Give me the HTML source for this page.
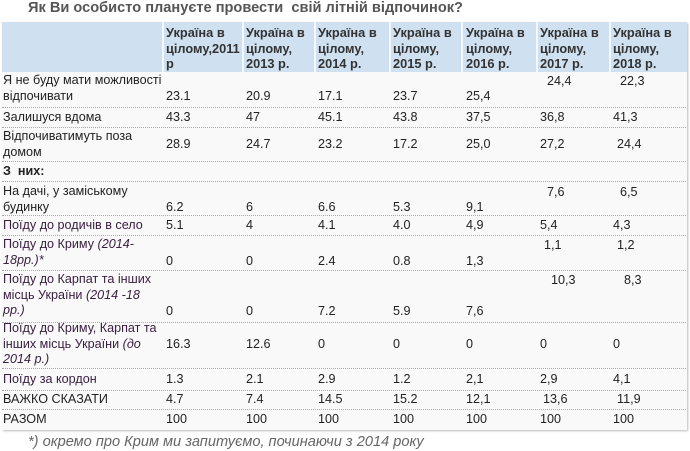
<!DOCTYPE html>
<html><head><meta charset="utf-8"><style>
body{margin:0;width:690px;height:450px;background:#fff;position:relative;overflow:hidden;font-family:"Liberation Sans",Arial,sans-serif;font-size:12.6px;color:#222}
div{position:absolute;white-space:nowrap;line-height:15.5px}
.h{font-weight:bold;color:#333;font-size:12.8px}
.l{position:absolute;left:2px;width:684px;height:0;border-top:1px dotted #aaa}
.v{position:absolute;top:22px;width:2px;height:50px;background:#f4f8fc}
i{font-style:italic}
.p{color:#3a2040}
</style></head><body>
<div style="left:28px;top:0;font-size:14.6px;font-weight:bold;color:#555;line-height:17px">Як Ви особисто плануєте провести&nbsp; свій літній відпочинок?</div>
<div style="left:2px;top:22px;width:685px;height:408px;background:#f9f9f9;box-shadow:1px 1px 2px #bbb"></div>
<div style="left:2px;top:22px;width:685px;height:50px;background:#cfe0f0"></div>
<span class="v" style="left:162px"></span><span class="v" style="left:242px"></span><span class="v" style="left:314px"></span><span class="v" style="left:389px"></span><span class="v" style="left:461px"></span><span class="v" style="left:536px"></span><span class="v" style="left:609px"></span>
<div class="h" style="left:166px;top:25px">Україна в<br>цілому,2011<br>р</div>
<div class="h" style="left:246px;top:25px">Україна в<br>цілому,<br>2013 р.</div>
<div class="h" style="left:318px;top:25px">Україна в<br>цілому,<br>2014 р.</div>
<div class="h" style="left:393px;top:25px">Україна в<br>цілому,<br>2015 р.</div>
<div class="h" style="left:466px;top:25px">Україна в<br>цілому,<br>2016 р.</div>
<div class="h" style="left:540px;top:25px">Україна в<br>цілому,<br>2017 р.</div>
<div class="h" style="left:613px;top:25px">Україна в<br>цілому,<br>2018 р.</div>
<span class="l" style="top:107px"></span><span class="l" style="top:127px"></span><span class="l" style="top:161px"></span><span class="l" style="top:181px"></span><span class="l" style="top:215px"></span><span class="l" style="top:235px"></span><span class="l" style="top:270px"></span><span class="l" style="top:322px"></span><span class="l" style="top:368px"></span><span class="l" style="top:390px"></span><span class="l" style="top:409px"></span>

<div style="left:3px;top:73px">Я не буду мати можливості<br>відпочивати</div>
<div style="left:166px;top:89px">23.1</div><div style="left:246px;top:89px">20.9</div><div style="left:318px;top:89px">17.1</div><div style="left:393px;top:89px">23.7</div><div style="left:466px;top:89px">25,4</div><div style="left:547px;top:74px">24,4</div><div style="left:620px;top:74px">22,3</div>

<div style="left:3px;top:110px">Залишуся вдома</div>
<div style="left:166px;top:110px">43.3</div><div style="left:246px;top:110px">47</div><div style="left:318px;top:110px">45.1</div><div style="left:393px;top:110px">43.8</div><div style="left:466px;top:110px">37,5</div><div style="left:540px;top:110px">36,8</div><div style="left:613px;top:110px">41,3</div>

<div style="left:3px;top:129px">Відпочиватимуть поза<br>домом</div>
<div style="left:166px;top:137px">28.9</div><div style="left:246px;top:137px">24.7</div><div style="left:318px;top:137px">23.2</div><div style="left:393px;top:137px">17.2</div><div style="left:466px;top:137px">25,0</div><div style="left:540px;top:137px">27,2</div><div style="left:617px;top:137px">24,4</div>

<div style="left:3px;top:164px;font-weight:bold">З&nbsp; них:</div>

<div style="left:3px;top:184px">На дачі, у заміському<br>будинку</div>
<div style="left:166px;top:200px">6.2</div><div style="left:246px;top:200px">6</div><div style="left:318px;top:200px">6.6</div><div style="left:393px;top:200px">5.3</div><div style="left:466px;top:200px">9,1</div><div style="left:547px;top:185px">7,6</div><div style="left:620px;top:185px">6,5</div>

<div class="p" style="left:3px;top:218px">Поїду до родичів в село</div>
<div style="left:166px;top:218px">5.1</div><div style="left:246px;top:218px">4</div><div style="left:318px;top:218px">4.1</div><div style="left:393px;top:218px">4.0</div><div style="left:466px;top:218px">4,9</div><div style="left:540px;top:218px">5,4</div><div style="left:613px;top:218px">4,3</div>

<div class="p" style="left:3px;top:237px">Поїду до Криму <i>(2014-<br>18рр.)*</i></div>
<div style="left:166px;top:254px">0</div><div style="left:246px;top:254px">0</div><div style="left:318px;top:254px">2.4</div><div style="left:393px;top:254px">0.8</div><div style="left:466px;top:254px">1,3</div><div style="left:544px;top:238px">1,1</div><div style="left:617px;top:238px">1,2</div>

<div class="p" style="left:3px;top:272px">Поїду до Карпат та інших<br>місць України <i>(2014 -18<br>рр.)</i></div>
<div style="left:166px;top:304px">0</div><div style="left:246px;top:304px">0</div><div style="left:318px;top:304px">7.2</div><div style="left:393px;top:304px">5.9</div><div style="left:466px;top:304px">7,6</div><div style="left:551px;top:273px">10,3</div><div style="left:624px;top:273px">8,3</div>

<div class="p" style="left:3px;top:321px">Поїду до Криму, Карпат та<br>інших місць України <i>(до<br>2014 р.)</i></div>
<div style="left:166px;top:337px">16.3</div><div style="left:246px;top:337px">12.6</div><div style="left:318px;top:337px">0</div><div style="left:393px;top:337px">0</div><div style="left:466px;top:337px">0</div><div style="left:540px;top:337px">0</div><div style="left:613px;top:337px">0</div>

<div class="p" style="left:3px;top:372px">Поїду за кордон</div>
<div style="left:166px;top:372px">1.3</div><div style="left:246px;top:372px">2.1</div><div style="left:318px;top:372px">2.9</div><div style="left:393px;top:372px">1.2</div><div style="left:466px;top:372px">2,1</div><div style="left:540px;top:372px">2,9</div><div style="left:613px;top:372px">4,1</div>

<div style="left:3px;top:392px">ВАЖКО СКАЗАТИ</div>
<div style="left:166px;top:392px">4.7</div><div style="left:246px;top:392px">7.4</div><div style="left:318px;top:392px">14.5</div><div style="left:393px;top:392px">15.2</div><div style="left:466px;top:392px">12,1</div><div style="left:543px;top:392px">13,6</div><div style="left:617px;top:392px">11,9</div>

<div style="left:3px;top:412px">РАЗОМ</div>
<div style="left:166px;top:412px">100</div><div style="left:246px;top:412px">100</div><div style="left:318px;top:412px">100</div><div style="left:393px;top:412px">100</div><div style="left:466px;top:412px">100</div><div style="left:540px;top:412px">100</div><div style="left:613px;top:412px">100</div>

<div style="left:28px;top:434px;font-size:14.6px;font-style:italic;color:#666;line-height:17px">*) окремо про Крим ми запитуємо, починаючи з 2014 року</div>
</body></html>
